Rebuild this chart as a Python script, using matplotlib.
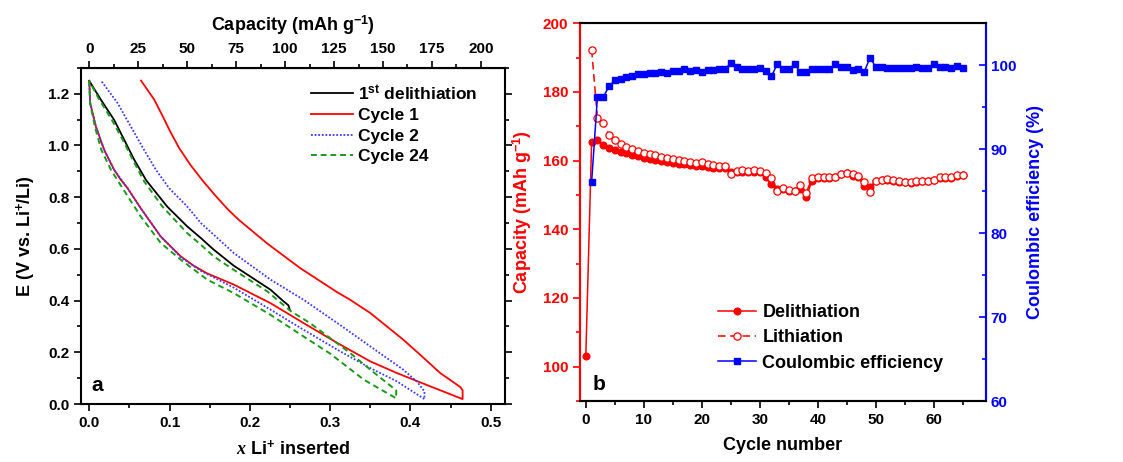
import numpy as np
import matplotlib
matplotlib.use("Agg")
import matplotlib.pyplot as plt
from matplotlib.ticker import MultipleLocator, FormatStrFormatter

plt.rcParams['font.family'] = ['Liberation Sans', 'DejaVu Sans']
plt.rcParams['font.weight'] = 'bold'
plt.rcParams['mathtext.fontset'] = 'custom'
plt.rcParams['mathtext.rm'] = 'Liberation Sans:bold'
plt.rcParams['mathtext.bf'] = 'Liberation Sans:bold'
plt.rcParams['mathtext.it'] = 'Liberation Serif:italic:bold'

# ---- panel a : voltage profiles ----
first_x = [0.0, 0.0145, 0.031, 0.0435, 0.056, 0.071, 0.097, 0.122, 0.139, 0.155, 0.180, 0.2258, 0.242, 0.248, 0.2498]
first_y = [1.25, 1.177, 1.099, 1.022, 0.945, 0.865, 0.764, 0.687, 0.642, 0.597, 0.535, 0.442, 0.397, 0.382, 0.365]

c1_x = [0.0, 0.0012, 0.0083, 0.0186, 0.031, 0.0394, 0.0477, 0.0642, 0.089, 0.114, 0.13, 0.147, 0.18, 0.2258,
        0.267, 0.309, 0.350, 0.383, 0.425, 0.465,
        0.465, 0.462, 0.437, 0.412, 0.391, 0.350, 0.325, 0.309, 0.263, 0.222, 0.186, 0.172, 0.156, 0.141,
        0.126, 0.112, 0.1015, 0.092, 0.081, 0.0645]
c1_y = [1.25, 1.164, 1.073, 0.983, 0.906, 0.867, 0.835, 0.757, 0.648, 0.571, 0.535, 0.505, 0.462, 0.39,
        0.313, 0.236, 0.165, 0.12, 0.068, 0.019,
        0.053, 0.066, 0.12, 0.191, 0.249, 0.352, 0.403, 0.432, 0.525, 0.62, 0.713, 0.755, 0.81, 0.865,
        0.925, 0.99, 1.05, 1.11, 1.177, 1.251]

c2_x = [0.0, 0.0012, 0.0083, 0.0186, 0.031, 0.0477, 0.0642, 0.089, 0.114, 0.139, 0.180, 0.2258, 0.267,
        0.309, 0.350, 0.383, 0.4175,
        0.4175, 0.408, 0.391, 0.350, 0.309, 0.267, 0.2258, 0.180, 0.155, 0.139, 0.122, 0.0994, 0.083,
        0.0683, 0.0518, 0.0353, 0.0154]
c2_y = [1.25, 1.164, 1.073, 0.983, 0.906, 0.835, 0.757, 0.648, 0.568, 0.515, 0.45, 0.365, 0.287,
        0.21, 0.139, 0.088, 0.019,
        0.049, 0.087, 0.133, 0.223, 0.313, 0.403, 0.481, 0.584, 0.655, 0.70, 0.764, 0.835, 0.906,
        0.983, 1.073, 1.164, 1.248]

c24_x = [0.0, 0.001, 0.007, 0.015, 0.027, 0.0373, 0.0642, 0.089, 0.114, 0.147, 0.180, 0.2258, 0.267,
         0.30, 0.342, 0.3823,
         0.3823, 0.371, 0.350, 0.325, 0.300, 0.275, 0.2506, 0.222, 0.180, 0.155, 0.139, 0.122, 0.091,
         0.0684, 0.055, 0.042, 0.028, 0.012, 0.0]
c24_y = [1.25, 1.164, 1.073, 0.983, 0.906, 0.855, 0.725, 0.623, 0.558, 0.481, 0.429, 0.345, 0.261,
         0.195, 0.094, 0.022,
         0.053, 0.081, 0.133, 0.197, 0.255, 0.313, 0.36, 0.435, 0.519, 0.571, 0.616, 0.661, 0.764,
         0.861, 0.94, 1.02, 1.10, 1.18, 1.25]

cap_per_x = 410.0  # mAh/g per Li

# ---- panel b : cycling ----
cyc_deli = list(range(0, 66))
cap_deli = [103.2, 165.5, 165.9, 164.6, 163.8, 163.2, 162.6, 162.1, 161.6, 161.3,
            160.8, 160.6, 160.1, 159.9, 159.5, 159.3, 159.0, 159.1, 158.7, 158.4,
            158.4, 158.1, 158.0, 157.8, 157.8, 156.7, 156.8, 156.8, 156.7, 156.8,
            156.7, 155.1, 153.1, 151.6, 151.8, 151.3, 151.3, 151.7, 149.5, 154.0,
            155.0, 155.0, 155.0, 155.3, 156.1, 156.3, 155.5, 155.3, 152.6, 152.4,
            154.0, 154.3, 154.5, 154.1, 153.9, 153.7, 153.6, 153.8, 154.0, 154.0,
            154.3, 155.0, 155.0, 154.9, 155.6, 155.7]
cyc_lith = list(range(1, 66))
cap_lith = [192.3, 172.4, 170.9, 167.5, 165.9, 164.9, 164.1, 163.4, 162.8,
            162.3, 161.8, 161.5, 161.2, 160.8, 160.4, 160.1, 159.8, 159.6, 159.3,
            159.6, 159.0, 158.8, 158.5, 158.5, 156.0, 156.9, 157.3, 157.0, 157.2,
            157.0, 156.3, 154.9, 151.3, 152.0, 151.4, 151.3, 152.8, 150.7, 154.8,
            155.3, 155.3, 155.1, 155.2, 156.2, 156.5, 156.2, 155.6, 153.9, 151.0,
            154.2, 154.5, 154.7, 154.3, 154.1, 153.9, 153.8, 154.0, 154.2, 154.2,
            154.4, 155.1, 155.1, 155.1, 155.8, 155.9]
cyc_ce = list(range(1, 66))
ce = [86.1, 96.2, 96.2, 97.5, 98.2, 98.4, 98.6, 98.7, 98.9,
      98.9, 99.1, 99.1, 99.2, 99.1, 99.3, 99.3, 99.5, 99.3, 99.4,
      99.2, 99.4, 99.4, 99.5, 99.5, 100.3, 99.8, 99.6, 99.6, 99.6,
      99.7, 99.3, 98.7, 100.1, 99.6, 99.6, 100.1, 99.2, 99.2, 99.5,
      99.6, 99.6, 99.6, 100.1, 99.8, 99.8, 99.4, 99.6, 99.2, 100.9,
      99.8, 99.8, 99.7, 99.7, 99.7, 99.7, 99.7, 99.8, 99.7, 99.7,
      100.1, 99.8, 99.8, 99.7, 99.9, 99.7]

fig = plt.figure(figsize=(11.23, 4.62), dpi=100)

# ======== panel a ========
ax = fig.add_axes([0.0721, 0.1255, 0.3776, 0.7275])
ax.plot(first_x, first_y, color='black', lw=1.3, label='1$^{\\mathrm{st}}$ delithiation')
ax.plot(c1_x, c1_y, color='#ff0000', lw=1.3, label='Cycle 1')
ax.plot(c2_x, c2_y, color='#3a3aff', lw=1.3, ls=(0, (1, 1)), label='Cycle 2')
ax.plot(c24_x, c24_y, color='#1a9a1a', lw=1.4, ls=(0, (3, 2)), label='Cycle 24')
ax.set_xlim(-0.0103, 0.5178)
ax.set_ylim(0, 1.3)
ax.xaxis.set_major_locator(MultipleLocator(0.1))
ax.xaxis.set_minor_locator(MultipleLocator(0.05))
ax.yaxis.set_major_locator(MultipleLocator(0.2))
ax.yaxis.set_minor_locator(MultipleLocator(0.1))
ax.tick_params(which='both', direction='out', right=True, labelsize=11, width=1.2)
ax.tick_params(which='major', length=5)
ax.tick_params(which='minor', length=3)
ax.xaxis.set_major_formatter(FormatStrFormatter('%.1f'))
ax.yaxis.set_major_formatter(FormatStrFormatter('%.1f'))
for s in ax.spines.values():
    s.set_linewidth(1.5)
ax.set_xlabel('$x$ Li$^{+}$ inserted', fontsize=13, fontweight='bold', labelpad=7)
ax.set_ylabel('E (V vs. Li$^{+}$/Li)', fontsize=13, fontweight='bold', labelpad=7)
top = ax.secondary_xaxis('top', functions=(lambda v: v * cap_per_x, lambda c: c / cap_per_x))
top.xaxis.set_major_locator(MultipleLocator(25))
top.xaxis.set_minor_locator(MultipleLocator(12.5))
top.tick_params(which='both', direction='out', labelsize=11, width=1.2)
top.tick_params(which='major', length=5)
top.tick_params(which='minor', length=3)
top.set_xlabel('Capacity (mAh g$^{-1}$)', fontsize=13, fontweight='bold', labelpad=8)
ax.legend(loc='upper right', bbox_to_anchor=(0.96, 0.985), frameon=False, fontsize=12.5,
          handlelength=2.4, handletextpad=0.3, labelspacing=0.32, borderaxespad=0.2)
ax.text(0.025, 0.04, 'a', transform=ax.transAxes, fontsize=15, fontweight='bold')

# ======== panel b ========
bx = fig.add_axes([0.5165, 0.132, 0.3615, 0.8176])
bx.plot(cyc_deli, cap_deli, color='#ff0000', lw=1.1, marker='o', ms=4.8, label='Delithiation')
bx.plot(cyc_lith, cap_lith, color='#ff0000', lw=1.1, ls=(0, (5, 3)), marker='o', ms=5.2,
        mfc='white', mec='#ff0000', mew=0.9, label='Lithiation')
bx.set_xlim(-1, 69)
bx.set_ylim(90, 200)
bx.xaxis.set_major_locator(MultipleLocator(10))
bx.xaxis.set_minor_locator(MultipleLocator(5))
bx.yaxis.set_major_locator(MultipleLocator(20))
bx.yaxis.set_minor_locator(MultipleLocator(10))
bx.tick_params(axis='x', which='both', direction='out', labelsize=11, width=1.2)
bx.tick_params(axis='y', which='both', direction='out', labelsize=11, width=1.2,
               colors='#ff0000', labelcolor='#ff0000')
bx.tick_params(which='major', length=5)
bx.tick_params(which='minor', length=3)
bx.set_xlabel('Cycle number', fontsize=13, fontweight='bold', labelpad=7)
bx.set_ylabel('Capacity (mAh g$^{-1}$)', fontsize=13, fontweight='bold', color='#ff0000', labelpad=6)

cx = bx.twinx()
cx.plot(cyc_ce, ce, color='#0000ff', lw=1.1, marker='s', ms=4.8, label='Coulombic efficiency')
cx.set_ylim(60, 105)
cx.yaxis.set_major_locator(MultipleLocator(10))
cx.yaxis.set_minor_locator(MultipleLocator(5))
cx.tick_params(axis='y', which='both', direction='in', labelsize=11, width=1.2,
               colors='#0000ff', labelcolor='#0000ff')
cx.tick_params(which='major', length=5)
cx.tick_params(which='minor', length=3)
cx.set_ylabel('Coulombic efficiency (%)', fontsize=13, fontweight='bold', color='#0000ff', labelpad=8)

for a in (bx, cx):
    for s in a.spines.values():
        s.set_linewidth(1.5)
    a.spines['left'].set_color('#ff0000')
    a.spines['right'].set_color('#0000ff')

h1, l1 = bx.get_legend_handles_labels()
h2, l2 = cx.get_legend_handles_labels()
cx.legend(h1 + h2, l1 + l2, loc='lower left', bbox_to_anchor=(0.3, 0.035), frameon=False,
          fontsize=13, handlelength=2.1, handletextpad=0.35, labelspacing=0.45)
bx.text(0.03, 0.03, 'b', transform=bx.transAxes, fontsize=15, fontweight='bold')

for a in (ax, top, bx, cx):
    for lab in a.get_xticklabels() + a.get_yticklabels():
        lab.set_fontweight('bold')

fig.savefig('out.png', dpi=100)
